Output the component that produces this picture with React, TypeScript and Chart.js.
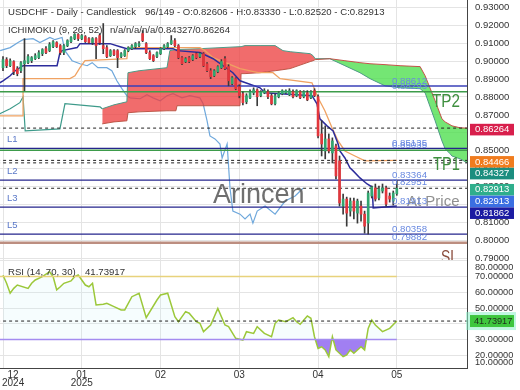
import React, { useEffect, useRef } from 'react';
import { Chart, registerables } from 'chart.js';
Chart.register(...registerables);

const FONT = '"Liberation Sans", Arial, Helvetica, sans-serif';

// ---------- axes ----------
const monthTicks = [0, 22, 44, 66, 88, 110];
const monthLabels = ['12', '01', '02', '03', '04', '05'];
const yearLabels = ['2024', '2025', '', '', '', ''];
const priceTicks = [0.79, 0.8, 0.81, 0.82, 0.83, 0.84, 0.85, 0.86, 0.87, 0.88, 0.89, 0.9, 0.91, 0.92, 0.93];
const rsiGridTicks = [20, 30, 40, 50, 60, 70, 80];
const rsiAxisLabels = [80, 70, 60, 50, 40, 30, 20, 10];

// ---------- candles ----------
const opens = [
  0.8963, 0.9008, 0.8974, 0.8997, 0.8958, 0.8946, 0.8985, 0.8991, 0.9002, 0.9013,
  0.9019, 0.9041, 0.9069, 0.9058, 0.9080, 0.9103, 0.9086, 0.9047, 0.9086, 0.9108,
  0.9125, 0.9148, 0.9125, 0.9136, 0.9125, 0.9103, 0.9125, 0.9142, 0.9086, 0.9075,
  0.9030, 0.9058, 0.9058, 0.9025, 0.9030, 0.9058, 0.9069, 0.9080, 0.9086, 0.9153,
  0.9097, 0.9047, 0.9030, 0.9025, 0.9041, 0.9069, 0.9080, 0.9097, 0.9114, 0.9086,
  0.9019, 0.8997, 0.9019, 0.9008, 0.9041, 0.9025, 0.9041, 0.8985, 0.8946, 0.8918,
  0.8941, 0.8963, 0.9013, 0.8969, 0.8874, 0.8902, 0.8857, 0.8818, 0.8773, 0.8795,
  0.8823, 0.8840, 0.8807, 0.8823, 0.8829, 0.8807, 0.8762, 0.8801, 0.8818, 0.8823,
  0.8812, 0.8829, 0.8807, 0.8829, 0.8801, 0.8823, 0.8795, 0.8835, 0.8801, 0.8594,
  0.8499, 0.8566, 0.8488, 0.8527, 0.8444, 0.8192, 0.8231, 0.8164, 0.8220, 0.8153,
  0.8192, 0.8147, 0.8097, 0.8248, 0.8293, 0.8237, 0.8276, 0.8293, 0.8248, 0.8220,
  0.82606,
];
const highs = [
  0.9025, 0.9019, 0.9013, 0.9002, 0.8969, 0.8997, 0.9125, 0.9036, 0.9025, 0.9041,
  0.9058, 0.9069, 0.9080, 0.9103, 0.9114, 0.9108, 0.9092, 0.9092, 0.9119, 0.9136,
  0.9153, 0.9153, 0.9148, 0.9142, 0.9131, 0.9131, 0.9131, 0.9153, 0.9209, 0.9086,
  0.9064, 0.9064, 0.9064, 0.9047, 0.9064, 0.9080, 0.9092, 0.9103, 0.9108, 0.9170,
  0.9103, 0.9058, 0.9036, 0.9052, 0.9075, 0.9092, 0.9103, 0.9142, 0.9125, 0.9092,
  0.9025, 0.9019, 0.9025, 0.9036, 0.9047, 0.9047, 0.9047, 0.8991, 0.8958, 0.8952,
  0.8974, 0.9008, 0.9025, 0.8980, 0.8913, 0.8907, 0.8868, 0.8829, 0.8818, 0.8840,
  0.8851, 0.8846, 0.8835, 0.8846, 0.8840, 0.8818, 0.8818, 0.8829, 0.8840, 0.8840,
  0.8846, 0.8840, 0.8840, 0.8835, 0.8835, 0.8835, 0.8835, 0.8846, 0.8812, 0.8667,
  0.8639, 0.8594, 0.8572, 0.8538, 0.8471, 0.8259, 0.8242, 0.8237, 0.8237, 0.8231,
  0.8220, 0.8164, 0.8276, 0.8304, 0.8315, 0.8304, 0.8315, 0.8304, 0.8265, 0.8276,
  0.8333,
];
const lows = [
  0.8946, 0.8963, 0.8969, 0.8924, 0.8918, 0.8935, 0.8835, 0.8985, 0.8991, 0.9008,
  0.9013, 0.9030, 0.9041, 0.9052, 0.9075, 0.9075, 0.9036, 0.9036, 0.9080, 0.9103,
  0.9119, 0.9114, 0.9119, 0.9103, 0.9097, 0.9092, 0.9013, 0.9092, 0.9041, 0.9019,
  0.9025, 0.9030, 0.8963, 0.9019, 0.9025, 0.9052, 0.9064, 0.9069, 0.9080, 0.9108,
  0.9041, 0.9008, 0.8997, 0.9019, 0.9036, 0.9064, 0.9075, 0.9092, 0.9080, 0.9013,
  0.8980, 0.8991, 0.8991, 0.9002, 0.9013, 0.9019, 0.8969, 0.8941, 0.8902, 0.8913,
  0.8935, 0.8958, 0.8952, 0.8862, 0.8868, 0.8840, 0.8795, 0.8756, 0.8762, 0.8790,
  0.8812, 0.8751, 0.8801, 0.8818, 0.8790, 0.8756, 0.8756, 0.8795, 0.8812, 0.8818,
  0.8807, 0.8795, 0.8801, 0.8790, 0.8795, 0.8779, 0.8790, 0.8801, 0.8572, 0.8471,
  0.8455, 0.8488, 0.8432, 0.8343, 0.8192, 0.8147, 0.8080, 0.8136, 0.8120, 0.8097,
  0.8108, 0.8041, 0.8036, 0.8237, 0.8220, 0.8226, 0.8265, 0.8192, 0.8214, 0.8198,
  0.8252,
];
const closes = [
  0.9008, 0.8974, 0.9002, 0.8941, 0.8930, 0.8991, 0.9002, 0.9025, 0.9019, 0.9030,
  0.9047, 0.9064, 0.9047, 0.9092, 0.9108, 0.9080, 0.9047, 0.9086, 0.9114, 0.9131,
  0.9148, 0.9125, 0.9142, 0.9108, 0.9103, 0.9125, 0.9086, 0.9103, 0.9069, 0.9025,
  0.9058, 0.9036, 0.9019, 0.9041, 0.9058, 0.9075, 0.9086, 0.9097, 0.9097, 0.9114,
  0.9047, 0.9013, 0.9002, 0.9047, 0.9069, 0.9086, 0.9097, 0.9114, 0.9086, 0.9019,
  0.8985, 0.9013, 0.8997, 0.9030, 0.9019, 0.9041, 0.8974, 0.8946, 0.8913, 0.8946,
  0.8969, 0.8997, 0.8958, 0.8890, 0.8907, 0.8846, 0.8807, 0.8768, 0.8807, 0.8829,
  0.8840, 0.8801, 0.8829, 0.8835, 0.8801, 0.8762, 0.8807, 0.8823, 0.8835, 0.8835,
  0.8835, 0.8801, 0.8835, 0.8795, 0.8829, 0.8784, 0.8829, 0.8807, 0.8583, 0.8538,
  0.8566, 0.8499, 0.8555, 0.8360, 0.8209, 0.8231, 0.8153, 0.8220, 0.8164, 0.8220,
  0.8147, 0.8080, 0.8265, 0.8298, 0.8231, 0.8287, 0.8293, 0.8203, 0.8231, 0.8265,
  0.82913,
];

// ---------- Ichimoku (9, 26, 52) ----------
const tenkanX = [-0.9, 0, 2, 3.4, 5.6, 15.1, 15.9, 16.5, 20.7, 21.5, 29.9, 32.7, 34.6, 47.5, 48.6, 55, 58.7, 64.2, 66.2, 71.8, 73.2, 86.3, 87.7, 88.5, 90.5, 92.2, 93.6, 94.1, 95.5, 96.9, 97.8, 99.7, 101.7, 103.1, 103.4, 110];
const tenkanY = [0.8879, 0.889, 0.8918, 0.8946, 0.8974, 0.8974, 0.9047, 0.9058, 0.9075, 0.9097, 0.9097, 0.908, 0.9069, 0.9069, 0.9058, 0.9047, 0.9013, 0.8935, 0.889, 0.8851, 0.8823, 0.8807, 0.8762, 0.8678, 0.8639, 0.8611, 0.8538, 0.8499, 0.846, 0.8405, 0.8388, 0.8349, 0.8315, 0.8298, 0.8181, 0.8192];
const kijunX = [-0.9, 5.6, 5.6, 18.7, 20.1, 21.5, 22.9, 34.6, 34.9, 55, 56.4, 58.7, 66.2, 71.2, 75.4, 77.4, 86.3, 88, 89.9, 91.9, 93.6, 95.5, 98.3, 101.1, 110];
const kijunY = [0.8695, 0.8695, 0.8902, 0.8902, 0.8918, 0.8963, 0.9002, 0.9013, 0.9075, 0.9075, 0.9058, 0.9019, 0.8958, 0.8935, 0.8935, 0.8902, 0.8879, 0.8795, 0.8723, 0.8628, 0.8555, 0.8499, 0.8471, 0.8444, 0.84466];
const chikouX = [-0.8, 2, 4.2, 5.6, 8.4, 10.3, 13.1, 14.5, 16.5, 17.3, 19.3, 21.5, 23.5, 24.9, 26.5, 29, 30.4, 31.8, 33.2, 34.6, 35.5, 38.3, 40.2, 41.9, 43.9, 45.8, 47.5, 50, 52.2, 55, 55.9, 57, 57.8, 59.2, 60.6, 61.2, 62.6, 63.4, 64.2, 66.2, 67.6, 69, 69.8, 71, 73.2, 76, 78.8, 81.6, 83.8];
const chikouY = [0.9058, 0.9075, 0.9103, 0.9119, 0.9125, 0.9103, 0.9131, 0.9119, 0.9131, 0.9058, 0.9002, 0.8985, 0.8974, 0.8991, 0.8963, 0.8963, 0.8946, 0.889, 0.8846, 0.8807, 0.8795, 0.879, 0.8812, 0.8795, 0.8779, 0.8807, 0.8818, 0.8795, 0.8807, 0.8795, 0.8762, 0.8667, 0.8583, 0.8566, 0.8538, 0.846, 0.8538, 0.8293, 0.8164, 0.8147, 0.812, 0.8147, 0.8097, 0.8164, 0.8192, 0.8147, 0.822, 0.8248, 0.82913];
const senkouAPreX = [-0.9, 2, 4.7, 5.6, 6.2, 15.9, 17.3, 27.1, 27.7];
const senkouAPre = [0.8706, 0.8734, 0.8768, 0.8801, 0.8611, 0.8622, 0.8762, 0.8745, 0.8734];
const cloudX = [27.7, 31, 34.6, 34.9, 38, 45.8, 46.6, 48.3, 48.6, 55, 66.2, 66.5, 67.6, 71.8, 76, 78.2, 80.2, 85.8, 86.6, 87.2, 91.3, 95.5, 99.7, 102.5, 106.7, 110.9, 116.5, 117.9, 120.7, 122.6, 123.5, 124.9, 125.4, 127.7, 129.7];
const senkouA = [0.8734, 0.8756, 0.8773, 0.8935, 0.8946, 0.8963, 0.9058, 0.9064, 0.9064, 0.9069, 0.908, 0.908, 0.9086, 0.9086, 0.9086, 0.9058, 0.9052, 0.9041, 0.903, 0.9013, 0.9013, 0.8974, 0.8935, 0.8902, 0.8862, 0.8851, 0.8846, 0.8823, 0.8667, 0.8555, 0.8511, 0.8483, 0.8471, 0.8455, 0.84327];
const senkouB = [0.865, 0.8661, 0.8667, 0.8712, 0.8717, 0.8723, 0.8723, 0.8723, 0.8751, 0.8751, 0.8751, 0.893, 0.893, 0.8935, 0.8946, 0.8952, 0.8958, 0.8997, 0.9002, 0.9008, 0.9013, 0.9002, 0.8991, 0.8985, 0.898, 0.8974, 0.8969, 0.8918, 0.8779, 0.8678, 0.8661, 0.8645, 0.8639, 0.8628, 0.86264];

// ---------- horizontal levels ----------
const blueLevels = [0.88612];
const greenLevels = [0.88293, 0.85035];
const navyLevels = [0.85135, 0.83364, 0.81862, 0.80358];
const dashedLevels = [0.86264, 0.84466, 0.84327, 0.82913];
const slLevels = [0.79882];
const levelLabelValues = [0.88612, 0.88293, 0.85135, 0.85035, 0.83364, 0.82951, 0.81913, 0.80358, 0.79882];
const lLabelNames = ['L1', 'L2', 'L3', 'L5'];
const targetNames = ['TP2', 'TP1', 'SL'];
const targetValues = [0.8742, 0.8393, 0.7873];
const atPriceValue = 0.81913;
const axisBoxValues = [0.86264, 0.84466, 0.84327, 0.82913, 0.82913, 0.81862];
const axisBoxColors = ['#d81f4c', '#f07c1e', '#1b8e7f', '#2fae8c', '#3b6fe2', '#1c1ca2'];

// ---------- RSI (14, 70, 30) ----------
const rsiX = [0, 1, 2, 3, 4, 7, 8, 9, 11, 13, 14, 15, 16, 17, 19, 20, 21, 22, 23, 24, 25, 26, 28, 29, 31, 33, 34, 36, 38, 40, 43, 44, 46, 48, 49, 51, 52, 54, 55, 56, 58, 60, 62, 63, 65, 67, 68, 70, 71, 73, 75, 76, 77, 79, 81, 82, 83, 85, 86, 87, 88, 89, 90, 91, 92, 93, 95, 96, 97, 98, 100, 101, 102, 103, 104, 106, 108, 110];
const rsiY = [70.8, 65.7, 59.4, 62.5, 64.6, 62.5, 65.7, 67.8, 69.9, 73, 69.9, 61.5, 63.5, 65.7, 67.2, 69.9, 71, 67.8, 64.6, 63.5, 65.7, 51.9, 52.4, 53, 50.9, 48.8, 48.8, 57.2, 59.4, 43.9, 55.1, 58.3, 59.4, 44.5, 41.3, 47.7, 46.7, 41.3, 40.3, 35, 39.2, 49.8, 39.2, 38.2, 30.8, 29.7, 35, 33.9, 38.2, 33.9, 31.8, 40.3, 42.4, 41.3, 43.9, 41.3, 39.7, 45, 43.5, 31.8, 24.4, 25.4, 23.4, 19.1, 31.8, 23.4, 19.1, 20.2, 23.4, 21.3, 25.4, 23.4, 37.1, 42.4, 39.2, 35, 37.1, 41.73917];
const rsiLast = 41.73917;
const rsiHigh = 70;
const rsiLow = 30;

const X_MIN = -0.84;
const X_MAX = 129.6;
const Y_MIN = 0.78916;
const Y_MAX = 0.93401;
const RSI_MIN = 11.93;
const RSI_MAX = 80.5;

const pts = (xs: number[], ys: number[]) => xs.map((x, i) => ({ x, y: ys[i] }));
const hline = (v: number, x0 = -5, x1 = 140) => [{ x: x0, y: v }, { x: x1, y: v }];
const lineDs = (data: any[], color: string, width: number, order: number, extra: any = {}) => ({
  type: 'line', data, borderColor: color, borderWidth: width, pointRadius: 0, tension: 0, fill: false, order, ...extra,
});

const GREEN = '#31a56f';
const RED = '#e2363c';

const mainOverlay = {
  id: 'mainOverlay',
  afterDraw(chart: any) {
    const { ctx, chartArea } = chart;
    const ys = chart.scales.y;
    const py = (v: number) => ys.getPixelForValue(v);
    ctx.save();
    ctx.textAlign = 'left';
    // watermark
    ctx.textBaseline = 'alphabetic';
    ctx.font = `27px ${FONT}`;
    ctx.fillStyle = 'rgba(95,95,95,0.9)';
    ctx.fillText('Arincen', 213, 203);
    // At Price
    ctx.font = `15px ${FONT}`;
    ctx.fillStyle = 'rgba(125,125,125,0.85)';
    ctx.fillText('At Price', 407, py(atPriceValue));
    // targets
    const tColors = ['#3f8f3f', '#3f8f3f', '#8a4b3b'];
    const tWidths = [28, 27, 17];
    const tX = [432, 433, 441];
    targetNames.forEach((t, i) => {
      ctx.font = `19px ${FONT}`;
      ctx.fillStyle = tColors[i];
      ctx.fillText(t, tX[i], py(targetValues[i]), tWidths[i]);
    });
    // level labels
    ctx.textBaseline = 'middle';
    ctx.font = `9.7px ${FONT}`;
    ctx.fillStyle = '#6a8ae0';
    levelLabelValues.forEach((v) => ctx.fillText(v.toFixed(5), 392, py(v) - 5));
    ctx.font = `9.5px ${FONT}`;
    ctx.fillStyle = '#5a78c8';
    lLabelNames.forEach((n, i) => ctx.fillText(n, 7, py(navyLevels[i]) - 9));
    // titles
    ctx.font = `9.6px ${FONT}`;
    ctx.fillStyle = '#333';
    ctx.fillText('USDCHF - Daily - Candlestick', 8, 12.5);
    ctx.fillText('96/149 - O:0.82606 - H:0.83330 - L:0.82520 - C:0.82913', 145, 12.5);
    ctx.fillText('ICHIMOKU (9, 26, 52)', 8, 30);
    ctx.fillText('n/a/n/a/n/a/0.84327/0.86264', 110, 30);
    // y tick labels
    ctx.font = `9.5px ${FONT}`;
    ctx.fillStyle = '#333';
    priceTicks.forEach((v) => ctx.fillText(v.toFixed(5), chartArea.right + 8, py(v)));
    // value boxes
    let prev = -1e9;
    axisBoxValues.forEach((v, i) => {
      const y = Math.max(py(v) + 1.5, prev + 11.7);
      prev = y;
      ctx.fillStyle = axisBoxColors[i];
      ctx.fillRect(chartArea.right + 3, y - 5.8, 44, 11.6);
      ctx.fillStyle = '#fff';
      ctx.fillText(v.toFixed(5), chartArea.right + 8, y);
    });
    ctx.restore();
  },
};

const rsiOverlay = {
  id: 'rsiOverlay',
  afterDraw(chart: any) {
    const { ctx, chartArea } = chart;
    const ys = chart.scales.y;
    const xs = chart.scales.x;
    ctx.save();
    ctx.textBaseline = 'middle';
    ctx.textAlign = 'left';
    ctx.font = `9.6px ${FONT}`;
    ctx.fillStyle = '#333';
    ctx.fillText('RSI (14, 70, 30)', 8, 12);
    ctx.fillText(rsiLast.toFixed(5), 85, 12);
    // axis labels
    ctx.font = `9.2px ${FONT}`;
    rsiAxisLabels.forEach((v) => {
      const y = Math.min(Math.max(ys.getPixelForValue(v), chartArea.top + 7), chartArea.bottom - 6);
      ctx.fillText(v.toFixed(5), chartArea.right + 8, y);
    });
    // current value box
    const by = ys.getPixelForValue(rsiLast);
    ctx.fillStyle = 'rgba(140,240,200,0.55)';
    ctx.fillRect(chartArea.right - 1, by - 9, 50, 18);
    ctx.fillStyle = '#3ec63e';
    ctx.fillRect(chartArea.right + 3, by - 6, 44, 12);
    ctx.fillStyle = '#1d2d1d';
    ctx.fillText(rsiLast.toFixed(5), chartArea.right + 7, by);
    // x labels
    ctx.font = `10px ${FONT}`;
    ctx.fillStyle = '#333';
    ctx.textAlign = 'center';
    monthTicks.forEach((t, i) => {
      const w = Math.max(ctx.measureText(monthLabels[i]).width, ctx.measureText(yearLabels[i]).width);
      const cx = Math.max(xs.getPixelForValue(t), 2 + w / 2);
      ctx.fillText(monthLabels[i], cx, chartArea.bottom + 7);
      if (yearLabels[i]) ctx.fillText(yearLabels[i], cx, chartArea.bottom + 15.5);
    });
    ctx.restore();
  },
};

function mainConfig(): any {
  const datasets: any[] = [];
  datasets.push(lineDs(pts(chikouX, chikouY), '#6fa8dc', 1.2, 30));
  datasets.push(lineDs(pts(senkouAPreX, senkouAPre), '#3d9a8a', 1.2, 29));
  const aIndex = datasets.length;
  datasets.push(lineDs(pts(cloudX, senkouA), '#4e9a86', 1, 28, {
    fill: { target: aIndex + 1, above: 'rgba(236,62,62,0.76)', below: 'rgba(72,222,72,0.76)' },
  }));
  datasets.push(lineDs(pts(cloudX, senkouB), 'rgba(190,70,60,0.9)', 1, 27));
  datasets.push(lineDs(pts(kijunX, kijunY), '#f0a262', 1.3, 26));
  datasets.push(lineDs(pts(tenkanX, tenkanY), '#2c2c9c', 1.5, 25));
  blueLevels.forEach((v) => datasets.push(lineDs(hline(v), '#3a40b8', 1.5, 20)));
  greenLevels.forEach((v) => datasets.push(lineDs(hline(v), '#3d9b4a', 1.5, 20)));
  navyLevels.forEach((v) => datasets.push(lineDs(hline(v), '#25258c', 1.2, 20)));
  dashedLevels.forEach((v) => datasets.push(lineDs(hline(v), '#222', 1, 20, { borderDash: [3, 3] })));
  slLevels.forEach((v) => datasets.push(lineDs(hline(v), '#bc8e80', 2.5, 20)));
  datasets.push({
    type: 'bar',
    data: highs.map((h, i) => ({ x: i, y: [lows[i], h] })),
    backgroundColor: '#3a3a3a',
    barThickness: 1,
    grouped: false,
    order: 3,
  });
  datasets.push({
    type: 'bar',
    data: opens.map((o, i) => ({ x: i, y: [o, closes[i]] })),
    backgroundColor: opens.map((o, i) => (closes[i] >= o ? GREEN : RED)),
    barThickness: 2,
    minBarLength: 1,
    grouped: false,
    order: 2,
  });
  return {
    type: 'bar',
    data: { datasets },
    plugins: [mainOverlay],
    options: {
      responsive: false,
      animation: false,
      devicePixelRatio: 1,
      events: [],
      layout: { padding: { left: 0, right: 0, top: 0, bottom: 1 } },
      plugins: { legend: { display: false }, tooltip: { enabled: false } },
      scales: {
        x: {
          type: 'linear', min: X_MIN, max: X_MAX, offset: false,
          afterBuildTicks: (s: any) => { s.ticks = monthTicks.map((v) => ({ value: v })); },
          ticks: { display: false },
          grid: { color: '#e4e4e4', drawTicks: false, offset: false },
          border: { display: true, color: '#555' },
          afterFit: (s: any) => { s.height = 0; },
        },
        y: {
          type: 'linear', position: 'right', min: Y_MIN, max: Y_MAX,
          afterBuildTicks: (s: any) => { s.ticks = priceTicks.map((v) => ({ value: v })); },
          ticks: { display: false },
          grid: { color: '#e4e4e4', drawTicks: false },
          border: { display: true, color: '#444' },
          afterFit: (s: any) => { s.width = 53; },
        },
      },
    },
  };
}

function rsiConfig(): any {
  return {
    type: 'line',
    data: {
      datasets: [
        lineDs(pts(rsiX, rsiY), '#9cc83a', 1.5, 3, {
          fill: { target: { value: rsiLow }, above: 'rgba(200,240,248,0.16)', below: 'rgba(145,105,240,0.85)' },
        }),
        lineDs(hline(rsiHigh, -5, 110), '#e8d27c', 1.5, 2),
        lineDs(hline(rsiLow, -5, 110), '#a48cf0', 1.5, 2),
        lineDs(hline(rsiLast), '#222', 1, 1, { borderDash: [3, 3] }),
      ],
    },
    plugins: [rsiOverlay],
    options: {
      responsive: false,
      animation: false,
      devicePixelRatio: 1,
      events: [],
      layout: { padding: 0 },
      plugins: { legend: { display: false }, tooltip: { enabled: false } },
      scales: {
        x: {
          type: 'linear', min: X_MIN, max: X_MAX, offset: false,
          afterBuildTicks: (s: any) => { s.ticks = monthTicks.map((v) => ({ value: v })); },
          ticks: { display: false },
          grid: { color: '#e4e4e4', drawTicks: false },
          border: { display: true, color: '#444' },
          afterFit: (s: any) => { s.height = 22; },
        },
        y: {
          type: 'linear', position: 'right', min: RSI_MIN, max: RSI_MAX,
          afterBuildTicks: (s: any) => { s.ticks = rsiGridTicks.map((v) => ({ value: v })); },
          ticks: { display: false },
          grid: { color: '#e4e4e4', drawTicks: false },
          border: { display: true, color: '#444' },
          afterFit: (s: any) => { s.width = 53; },
        },
      },
    },
  };
}

export default function App() {
  const mainRef = useRef<HTMLCanvasElement>(null);
  const rsiRef = useRef<HTMLCanvasElement>(null);
  useEffect(() => {
    const main = new Chart(mainRef.current as HTMLCanvasElement, mainConfig());
    const rsi = new Chart(rsiRef.current as HTMLCanvasElement, rsiConfig());
    return () => {
      main.destroy();
      rsi.destroy();
    };
  }, []);
  return (
    <div style={{ position: 'fixed', left: 0, top: 0, width: 520, height: 390, background: '#fff', overflow: 'hidden' }}>
      <canvas ref={mainRef} width={520} height={261} style={{ position: 'absolute', left: 0, top: 0, width: 520, height: 261 }} />
      <canvas ref={rsiRef} width={520} height={130} style={{ position: 'absolute', left: 0, top: 260, width: 520, height: 130 }} />
    </div>
  );
}
